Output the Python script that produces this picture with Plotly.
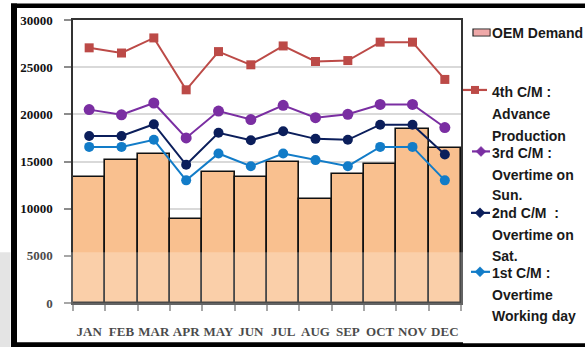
import plotly.graph_objects as go

# Monthly demand and cumulative capacity by countermeasure
months = ["JAN", "FEB", "MAR", "APR", "MAY", "JUN", "JUL", "AUG", "SEP", "OCT", "NOV", "DEC"]
oem_demand = [13400, 15200, 15800, 8950, 13900, 13400, 14950, 11050, 13700, 14700, 18400, 16400]
cm1_overtime_working_day = [16550, 16550, 17300, 13000, 15850, 14500, 15850, 15150, 14500, 16550, 16550, 13000]
cm2_overtime_sat = [17700, 17700, 18950, 14650, 18050, 17250, 18200, 17400, 17300, 18900, 18900, 15750]
cm3_overtime_sun = [20500, 19950, 21200, 17500, 20350, 19450, 20950, 19650, 20000, 21050, 21050, 18600]
cm4_advance_production = [27050, 26500, 28100, 22600, 26650, 25250, 27250, 25600, 25700, 27650, 27650, 23700]
y_ticks = [0, 5000, 10000, 15000, 20000, 25000, 30000]

W, H = 585, 347
L, R, T, B = 73, 461, 19.5, 302.7


def px(x):
    return (x - L) / (R - L)


def py(y):
    return (B - y) / (B - T)


fig = go.Figure()
fig.add_trace(go.Bar(
    x=months, y=oem_demand, name="OEM Demand",
    marker=dict(color="#F9C08F", line=dict(color="#111111", width=1.6)),
    showlegend=False,
))

series = [
    ("1st C/M", cm1_overtime_working_day, "#127CC8", "circle", 10),
    ("2nd C/M", cm2_overtime_sat, "#0B1E5B", "circle", 10),
    ("3rd C/M", cm3_overtime_sun, "#7A2EA2", "circle", 11),
    ("4th C/M", cm4_advance_production, "#BC4A47", "square", 9),
]
for name, vals, color, sym, size in series:
    fig.add_trace(go.Scatter(
        x=months, y=vals, name=name, mode="lines+markers",
        line=dict(color=color, width=2),
        marker=dict(symbol=sym, size=size, color=color),
        showlegend=False,
    ))

shapes = []
# soft light band over the lower part of the slide
shapes.append(dict(type="rect", xref="paper", yref="paper", layer="above",
                   x0=px(0), x1=px(W), y0=py(H), y1=py(252),
                   fillcolor="rgba(255,255,255,0.24)", line=dict(width=0)))
shapes.append(dict(type="rect", xref="paper", yref="paper", layer="above",
                   x0=px(0), x1=px(10.5), y0=py(H), y1=py(252),
                   fillcolor="#e4e4e4", line=dict(width=0)))
# black frame around the chart
for x0, x1, y0, y1 in [(11, 17, 3, H), (11, W, 3, 7.5), (11, W, 342, H)]:
    shapes.append(dict(type="rect", xref="paper", yref="paper", layer="above",
                       x0=px(x0), x1=px(x1), y0=py(y1), y1=py(y0),
                       fillcolor="#000000", line=dict(width=0)))
# legend panel
shapes.append(dict(type="rect", xref="paper", yref="paper", layer="above",
                   x0=px(463), x1=px(W + 2), y0=py(343), y1=py(7.5),
                   fillcolor="#ffffff", line=dict(width=0)))
# legend swatch for the bars
shapes.append(dict(type="rect", xref="paper", yref="paper", layer="above",
                   x0=px(473), x1=px(490), y0=py(35.5), y1=py(28.5),
                   fillcolor="#F6BDBD", line=dict(color="#222222", width=1.2)))
for sx in range(475, 490, 2):
    shapes.append(dict(type="line", xref="paper", yref="paper", layer="above",
                       x0=px(sx), x1=px(sx), y0=py(35), y1=py(29),
                       line=dict(color="#E58C8C", width=0.8)))


def diamond(cx, cy, r, color):
    path = (f"M {px(cx - r)} {py(cy)} L {px(cx)} {py(cy - r)} "
            f"L {px(cx + r)} {py(cy)} L {px(cx)} {py(cy + r)} Z")
    return dict(type="path", xref="paper", yref="paper", layer="above",
                path=path, fillcolor=color, line=dict(color=color, width=0.5))


# legend glyphs for the lines
glyphs = [
    (463, 487, 475, 89.5, "#BC4A47", "square"),
    (472, 490, 481, 151, "#7A2EA2", "diamond"),
    (471, 490, 480, 212.5, "#0B1E5B", "diamond"),
    (471, 490, 480, 271.5, "#127CC8", "diamond"),
]
for x0, x1, cx, cy, color, kind in glyphs:
    shapes.append(dict(type="line", xref="paper", yref="paper", layer="above",
                       x0=px(x0), x1=px(x1), y0=py(cy), y1=py(cy),
                       line=dict(color=color, width=2.2)))
    if kind == "square":
        shapes.append(dict(type="rect", xref="paper", yref="paper", layer="above",
                           x0=px(cx - 4), x1=px(cx + 4), y0=py(cy + 4), y1=py(cy - 4),
                           fillcolor=color, line=dict(width=0)))
    else:
        shapes.append(diamond(cx, cy, 5, color))

legend_lines = [
    ("OEM Demand", 32.5, 14),
    ("4th C/M :", 91.5, 14), ("Advance", 114, 14), ("Production", 136, 14),
    ("3rd C/M :", 153, 14), ("Overtime on", 175, 14), ("Sun.", 195, 14),
    ("2nd C/M  :", 213, 14), ("Overtime on", 235, 14), ("Sat.", 256, 14),
    ("1st C/M :", 273, 14), ("Overtime", 294.5, 14), ("Working day", 315.5, 14),
]
annotations = []
for text, yc, fs in legend_lines:
    annotations.append(dict(
        text=text, xref="paper", yref="paper", x=px(489.5), y=py(yc),
        xanchor="left", yanchor="middle", showarrow=False,
        font=dict(family="Liberation Sans, Arial, sans-serif", size=fs,
                  color="#1a1a1a", weight="bold"),
    ))

fig.update_layout(
    width=W, height=H,
    margin=dict(l=L, r=W - R, t=T, b=H - B, pad=0, autoexpand=False),
    paper_bgcolor="#ffffff", plot_bgcolor="#ffffff",
    bargap=0,
    showlegend=False,
    shapes=shapes,
    annotations=annotations,
    font=dict(family="Liberation Serif, Times New Roman, serif", color="#1a1a1a"),
    xaxis=dict(
        type="category", range=[-0.5, len(months) - 0.5], automargin=False,
        tickson="boundaries", ticks="outside", ticklen=6,
        tickcolor="#8c8c8c", tickwidth=1.5, tickangle=0,
        showline=True, linecolor="#333333", linewidth=1.5, mirror=True,
        tickfont=dict(family="Liberation Serif, Times New Roman, serif", size=13,
                      color="#111111", weight="bold"),
        ticklabelstandoff=16, showgrid=False,
    ),
    yaxis=dict(
        range=[0, 30000], tickvals=y_ticks, ticktext=[str(v) for v in y_ticks],
        automargin=False,
        ticks="outside", ticklen=7, tickcolor="#8c8c8c", tickwidth=1.5,
        showline=True, linecolor="#333333", linewidth=1.5, mirror=True,
        showgrid=True, gridcolor="#d9d9d9", gridwidth=1.5, zeroline=False,
        tickfont=dict(family="Liberation Serif, Times New Roman, serif", size=13,
                      color="#111111", weight="bold"),
        ticklabelstandoff=9,
    ),
)

fig.write_html("out.html")
